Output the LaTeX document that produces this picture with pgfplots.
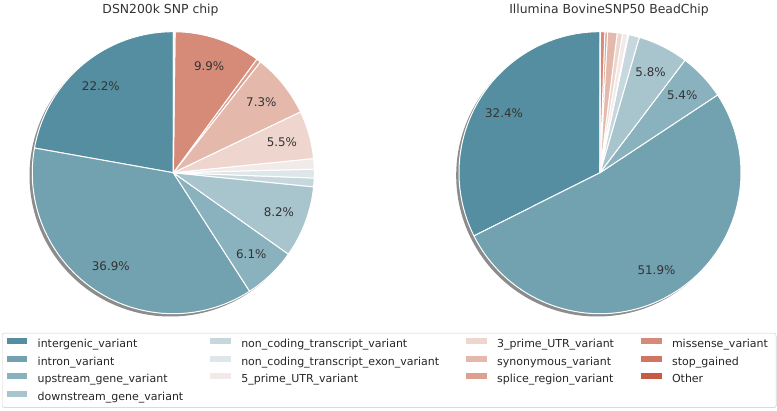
\documentclass[border=0pt]{standalone}
\usepackage{fontspec}
\setmainfont{DejaVu Sans}
\usepackage{pgfplots}
\usepackage{pgfplotstable}
\pgfplotsset{compat=1.18}

% palette, dark blue -> white -> red
\definecolor{c0}{HTML}{558EA0}
\definecolor{c1}{HTML}{72A1B0}
\definecolor{c2}{HTML}{8AB1BE}
\definecolor{c3}{HTML}{A8C4CC}
\definecolor{c4}{HTML}{C6D8DE}
\definecolor{c5}{HTML}{DDE7EA}
\definecolor{c6}{HTML}{F1EAE8}
\definecolor{c7}{HTML}{EED6CF}
\definecolor{c8}{HTML}{E4B9AC}
\definecolor{c9}{HTML}{DDA090}
\definecolor{c10}{HTML}{D68A78}
\definecolor{c11}{HTML}{D07561}
\definecolor{c12}{HTML}{C65B44}

\newcommand{\labelfont}{\fontsize{11.9}{14}\selectfont}
\newcommand{\titlefont}{\fontsize{12.4}{15}\selectfont}

% percentages per consequence, one column per chip
\pgfplotstableread{
name dsn bov
intergenic 22.2 32.4
intron 36.9 51.9
upstream 6.1 5.4
downstream 8.2 5.8
nctranscript 1.0 1.25
ncexon 1.0 0.1
utr5 1.2 0.6
utr3 5.5 0.6
synonymous 7.3 1.1
splice 0.5 0.3
missense 9.9 0.5
stop 0.1 0.02
other 0.1 0.03
}\data
\pgfplotstablecreatecol[expr accum={\pgfmathaccuma + \thisrow{dsn}}{0}]{dsncum}\data
\pgfplotstablecreatecol[expr accum={\pgfmathaccuma + \thisrow{bov}}{0}]{bovcum}\data

% #1 column, #2 #3 centre
\newcommand\drawpie[3]{%
  \fill[black!45] (axis cs:{#2-2.8},{#3-2.8}) circle[radius=141pt];
  \pgfplotsinvokeforeach{0,...,12}{%
    \pgfplotstablegetelem{##1}{#1}\of\data \let\myval\pgfplotsretval
    \pgfplotstablegetelem{##1}{#1cum}\of\data \let\mycum\pgfplotsretval
    \pgfmathsetmacro\angb{90+3.6*\mycum}%
    \pgfmathsetmacro\anga{\angb-3.6*\myval}%
    \pgfmathsetmacro\xs{#2+141*cos(\anga)}%
    \pgfmathsetmacro\ys{#3+141*sin(\anga)}%
    \edef\temp{\noexpand\filldraw[fill=c##1, draw=white, line width=1pt, line join=round]
      (axis cs:#2,#3) -- (axis cs:\xs,\ys) arc[start angle=\anga, end angle=\angb, radius=141pt] -- cycle;}%
    \temp
  }%
  \pgfplotsinvokeforeach{0,...,12}{%
    \pgfplotstablegetelem{##1}{#1}\of\data \let\myval\pgfplotsretval
    \pgfplotstablegetelem{##1}{#1cum}\of\data \let\mycum\pgfplotsretval
    \ifdim\myval pt>5pt
      \pgfmathsetmacro\angm{90+3.6*\mycum-1.8*\myval}%
      \pgfmathsetmacro\xs{#2+112.8*cos(\angm)}%
      \pgfmathsetmacro\ys{#3+112.8*sin(\angm)}%
      \edef\temp{\noexpand\node[font=\noexpand\labelfont, text=black!80] at (axis cs:\xs,\ys) {\myval\noexpand\%};}%
      \temp
    \fi
  }%
}

\begin{document}
\begin{tikzpicture}
\begin{axis}[
  x=1pt, y=1pt,
  xmin=0, xmax=777, ymin=0, ymax=410,
  at={(0pt,0pt)}, anchor=south west,
  hide axis, clip=false,
  legend columns=4,
  legend cell align=left,
  legend image code/.code={\fill[sharp corners, draw=none, #1] (0pt,0.5pt) rectangle (20.5pt,6.5pt);},
  legend style={
    at={(0.002574,0.187805)}, anchor=north west,
    draw=black!20, fill=white, rounded corners=2pt,
    inner sep=4.5pt,
    font=\fontsize{11}{13}\selectfont, text=black!85,
    row sep=5.8pt,
    nodes={inner sep=0pt, text height=8.5pt, text depth=2.5pt},
    /tikz/every odd column/.append style={column sep=10.5pt},
    /tikz/every even column/.append style={column sep=27pt},
    /tikz/column 8/.append style={nodes={text width=99.5pt}},
  },
]
\path (axis cs:0,0) rectangle (axis cs:777,410);

\drawpie{dsn}{173.3}{237.3}
\drawpie{bov}{600}{237.3}

\node[anchor=base, font=\titlefont, text=black!80] at (axis cs:160.5,396.5) {DSN200k SNP chip};
\node[anchor=base, font=\titlefont, text=black!80] at (axis cs:609,396.5) {Illumina BovineSNP50 BeadChip};

% shadow behind the legend frame
\fill[black!30, rounded corners=2pt] (axis cs:3.4,2.6) rectangle (axis cs:776.4,75.6);

% legend, row by row so that it reads column by column
\addlegendimage{fill=c0}\addlegendentry{intergenic\_variant}
\addlegendimage{fill=c4}\addlegendentry{non\_coding\_transcript\_variant}
\addlegendimage{fill=c7}\addlegendentry{3\_prime\_UTR\_variant}
\addlegendimage{fill=c10}\addlegendentry{missense\_variant}
\addlegendimage{fill=c1}\addlegendentry{intron\_variant}
\addlegendimage{fill=c5}\addlegendentry{non\_coding\_transcript\_exon\_variant}
\addlegendimage{fill=c8}\addlegendentry{synonymous\_variant}
\addlegendimage{fill=c11}\addlegendentry{stop\_gained}
\addlegendimage{fill=c2}\addlegendentry{upstream\_gene\_variant}
\addlegendimage{fill=c6}\addlegendentry{5\_prime\_UTR\_variant}
\addlegendimage{fill=c9}\addlegendentry{splice\_region\_variant}
\addlegendimage{fill=c12}\addlegendentry{Other}
\addlegendimage{fill=c3}\addlegendentry{downstream\_gene\_variant}
\addlegendimage{empty legend}\addlegendentry{}
\addlegendimage{empty legend}\addlegendentry{}
\addlegendimage{empty legend}\addlegendentry{}
\end{axis}
\end{tikzpicture}
\end{document}
